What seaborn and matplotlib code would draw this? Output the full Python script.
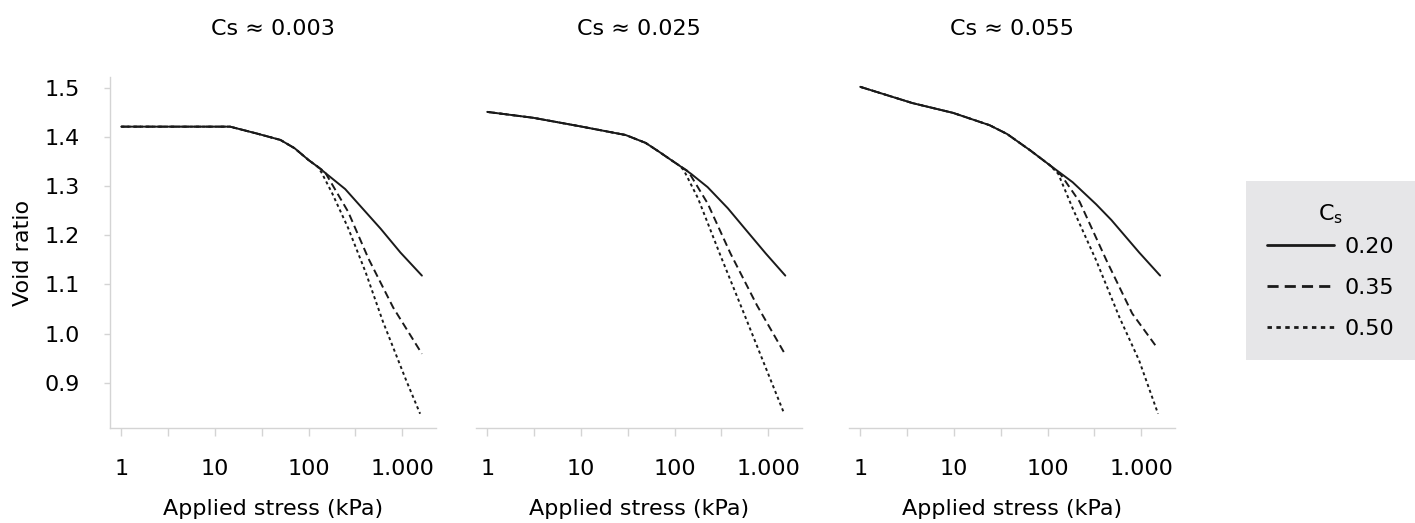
import numpy as np
import pandas as pd
import matplotlib
matplotlib.use("Agg")
import matplotlib.pyplot as plt
import seaborn as sns
from matplotlib.ticker import NullLocator

# ---------------- data ----------------
panel_titles = ["Cs ≈ 0.003", "Cs ≈ 0.025", "Cs ≈ 0.055"]
series_labels = ["0.20", "0.35", "0.50"]
x_tick_values = [1, 3.162, 10, 31.62, 100, 316.2, 1000]
x_tick_labels = ["1", "", "10", "", "100", "", "1.000"]
y_tick_values = [0.9, 1.0, 1.1, 1.2, 1.3, 1.4, 1.5]

# panel 1 (Cs ~ 0.003)
p1_common_stress = [1, 14.5, 28, 50, 71, 100, 126]
p1_common_void = [1.421, 1.421, 1.407, 1.394, 1.377, 1.353, 1.339]
p1_s020_stress = [162, 246, 340, 590, 955, 1620]
p1_s020_void = [1.322, 1.294, 1.264, 1.213, 1.165, 1.118]
p1_s035_stress = [149, 264, 437, 800, 1620]
p1_s035_void = [1.329, 1.248, 1.152, 1.053, 0.959]
p1_s050_stress = [138, 178, 264, 406, 620, 1100, 1550]
p1_s050_void = [1.327, 1.286, 1.215, 1.125, 1.025, 0.905, 0.837]

# panel 2 (Cs ~ 0.025)
p2_common_stress = [1, 3.1, 9.6, 30, 49, 67, 92, 110]
p2_common_void = [1.451, 1.439, 1.422, 1.404, 1.388, 1.371, 1.353, 1.343]
p2_s020_stress = [150, 225, 370, 560, 940, 1520]
p2_s020_void = [1.325, 1.298, 1.255, 1.214, 1.163, 1.118]
p2_s035_stress = [140, 225, 395, 760, 1480]
p2_s035_void = [1.330, 1.265, 1.163, 1.057, 0.961]
p2_s050_stress = [125, 178, 310, 550, 970, 1480]
p2_s050_void = [1.333, 1.275, 1.158, 1.041, 0.924, 0.837]

# panel 3 (Cs ~ 0.055)
p3_common_stress = [1, 3.6, 9.8, 24, 37, 65, 105]
p3_common_void = [1.502, 1.469, 1.449, 1.424, 1.406, 1.373, 1.343]
p3_s020_stress = [185, 330, 480, 950, 1590]
p3_s020_void = [1.308, 1.263, 1.231, 1.165, 1.118]
p3_s035_stress = [140, 220, 425, 800, 1480]
p3_s035_void = [1.322, 1.268, 1.149, 1.041, 0.971]
p3_s050_stress = [130, 185, 330, 585, 950, 1510]
p3_s050_void = [1.325, 1.255, 1.149, 1.033, 0.945, 0.837]

panels = [
    (p1_common_stress, p1_common_void,
     [(p1_s020_stress, p1_s020_void), (p1_s035_stress, p1_s035_void), (p1_s050_stress, p1_s050_void)]),
    (p2_common_stress, p2_common_void,
     [(p2_s020_stress, p2_s020_void), (p2_s035_stress, p2_s035_void), (p2_s050_stress, p2_s050_void)]),
    (p3_common_stress, p3_common_void,
     [(p3_s020_stress, p3_s020_void), (p3_s035_stress, p3_s035_void), (p3_s050_stress, p3_s050_void)]),
]

rows = []
for pi, (cs, cv, branches) in enumerate(panels):
    for lab, (bs, bv) in zip(series_labels, branches):
        for s, v in zip(list(cs) + list(bs), list(cv) + list(bv)):
            rows.append({"panel": pi, "stress": s, "void": v, "Cs": lab})
df = pd.DataFrame(rows)

# ---------------- style ----------------
sns.set_theme(style="white")
plt.rcParams["font.family"] = ["DejaVu Sans"]
plt.rcParams["mathtext.fontset"] = "dejavusans"
plt.rcParams["text.color"] = "black"
plt.rcParams["axes.labelcolor"] = "black"
plt.rcParams["xtick.labelcolor"] = "black"
plt.rcParams["ytick.labelcolor"] = "black"
FS = 16
GRID_C = "#d4d4d4"
LINE_C = "#1a1a1a"

fig = plt.figure(figsize=(14.15, 5.23), dpi=100)
W, H = 1415, 523
top_px, bot_px = 77, 428
ax_w = 326
lefts = [110, 476, 849]
axes = []
for i, lp in enumerate(lefts):
    ax = fig.add_axes([lp / W, 1 - bot_px / H, ax_w / W, (bot_px - top_px) / H],
                      sharey=axes[0] if axes else None)
    axes.append(ax)

dash_map = {"0.20": "", "0.35": (4.0, 2.2), "0.50": (1.6, 1.6)}

for i, ax in enumerate(axes):
    sub = df[df["panel"] == i]
    sns.lineplot(data=sub, x="stress", y="void", style="Cs", style_order=series_labels,
                 dashes=dash_map, color=LINE_C, linewidth=1.4, ax=ax, legend=(i == 0),
                 estimator=None, sort=True)
    ax.set_xscale("log")
    ax.set_xlim(10 ** -0.12, 10 ** 3.36)
    ax.set_ylim(0.808, 1.522)
    ax.set_xticks(x_tick_values)
    ax.set_xticklabels(x_tick_labels)
    ax.xaxis.set_minor_locator(NullLocator())
    ax.tick_params(axis="x", which="major", direction="out", length=5.5, width=1,
                   color=GRID_C, pad=16.5, labelsize=FS, bottom=True, labelcolor="black")
    ax.set_title(panel_titles[i], fontsize=FS, pad=30.5, color="black")
    ax.set_xlabel("Applied stress (kPa)", fontsize=FS, labelpad=15, color="black")
    for sp in ["top", "right"]:
        ax.spines[sp].set_visible(False)
    ax.spines["bottom"].set_color(GRID_C)
    ax.spines["bottom"].set_linewidth(1)
    if i == 0:
        ax.set_yticks(y_tick_values)
        ax.set_yticklabels([f"{v:.1f}" for v in y_tick_values])
        ax.tick_params(axis="y", direction="out", length=4, width=1, color=GRID_C,
                       pad=18, labelsize=FS, left=True, labelcolor="black")
        ax.spines["left"].set_color(GRID_C)
        ax.spines["left"].set_linewidth(1)
        ax.set_ylabel("Void ratio", fontsize=FS, labelpad=8, color="black")
    else:
        ax.spines["left"].set_visible(False)
        ax.tick_params(axis="y", left=False, labelleft=False)
        ax.set_ylabel("")

# legend
handles, labels = axes[0].get_legend_handles_labels()
if axes[0].get_legend() is not None:
    axes[0].get_legend().remove()
for h in handles:
    h.set_linewidth(2.0)
leg = fig.legend(handles, labels, title="C$_{\\rm s}$", loc="upper left",
                 bbox_to_anchor=(1246 / W, 1 - 181 / H), borderaxespad=0,
                 frameon=True, fancybox=False, fontsize=FS, title_fontsize=FS,
                 handlelength=3.0, handletextpad=0.5, labelspacing=0.95,
                 borderpad=0.95)
leg._legend_box.sep = 8
leg.get_title().set_color("black")
for t in leg.get_texts():
    t.set_color("black")
frame = leg.get_frame()
frame.set_facecolor("#e6e6e8")
frame.set_edgecolor("none")
frame.set_alpha(1)

fig.savefig("out.png", dpi=100)
